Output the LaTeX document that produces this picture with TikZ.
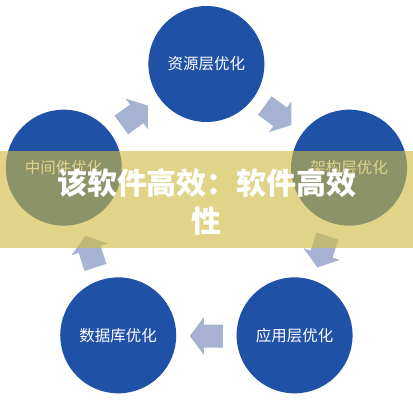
\documentclass[tikz,border=0pt]{standalone}
\usepackage{fontspec}
\newfontfamily\cjk{Noto Sans CJK SC}
\definecolor{bubblue}{RGB}{31,82,166}
\definecolor{arrblue}{RGB}{166,178,210}
\definecolor{bannergold}{RGB}{208,187,66}
\tikzset{
  bub/.style={circle, fill=bubblue, minimum size=116pt, inner sep=0pt, text=white,
    font=\cjk\fontsize{15.5}{18}\selectfont},
  blockarrow/.style={fill=arrblue},
  banner/.style={fill=bannergold, fill opacity=0.62},
  bannertext/.style={text=white, align=center, inner sep=0pt,
    font=\cjk\bfseries\fontsize{30}{38}\selectfont}
}
\begin{document}
\begin{tikzpicture}[x=1pt,y=1pt]
\useasboundingbox (0,0) rectangle (413,400);
\fill[white] (0,0) rectangle (413,400);
\coordinate (c) at (206.4,186);
\node[bub] (t)  at ([shift={(90:150)}]c)   {资源层优化};
\node[bub] (r)  at ([shift={(18:150)}]c)   {架构层优化};
\node[bub] (br) at ([shift={(-54:150)}]c)  {应用层优化};
\node[bub] (bl) at ([shift={(-126:150)}]c) {数据库优化};
\node[bub] (l)  at ([shift={(162:150)}]c)  {中间件优化};
\foreach \a in {126,54,-18,-90,-162}{
  \fill[blockarrow, shift={(c)}, rotate=\a, shift={(122,0)}, rotate=-90]
    (-16.5,-11.5) -- (2.5,-11.5) -- (2.5,-19) -- (16.5,0) -- (2.5,19) -- (2.5,11.5) -- (-16.5,11.5) -- cycle;
}
\fill[banner] (0,152) rectangle (413,249);
\node[bannertext] (title) at (207,198) {该软件高效：软件高效\\性};
\end{tikzpicture}
\end{document}
